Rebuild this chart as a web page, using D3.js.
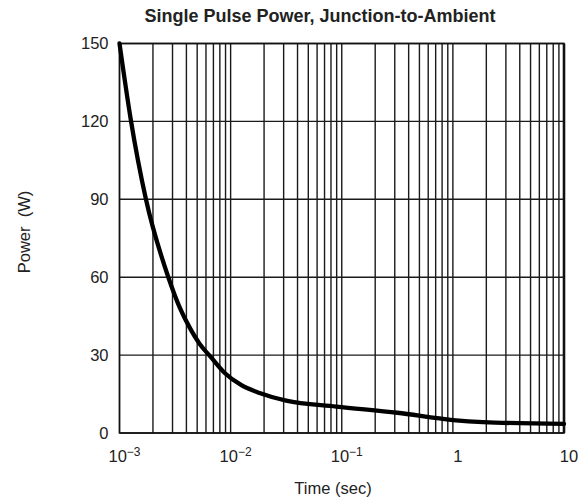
<!DOCTYPE html>
<html>
<head>
<meta charset="utf-8">
<script src="https://cdn.jsdelivr.net/npm/d3@7"></script>
<style>
  body { margin: 0; background: #fff; }
  svg text { font-family: "Liberation Sans", Arial, sans-serif; fill: #222; }
</style>
</head>
<body>
<div id="chart"></div>
<script>
/* single pulse power curve */
var timeSec  = [0.001, 0.00126, 0.00173, 0.00275, 0.00351, 0.00432, 0.00531, 0.00653, 0.0089, 0.0124, 0.0185, 0.0316, 0.0891, 0.316, 1, 1.86, 10];
var powerW   = [150,   121,     90,      60,      48,      40.3,    34.1,    29.6,    23,     18.5,   15.3,   12.5,   10.2,   7.8,   5, 4.2,  3.5];
var yTicks   = [0, 30, 60, 90, 120, 150];
var xDecades = [-3, -2, -1, 0, 1];
var xLabels  = [["10", "\u22123"], ["10", "\u22122"], ["10", "\u22121"], ["1", ""], ["10", ""]];

var width = 585, height = 501,
    margin = { top: 43.5, right: 21, bottom: 68, left: 119.5 };

var svg = d3.select("#chart").append("svg")
    .attr("width", width)
    .attr("height", height);

var x = d3.scaleLog()
    .domain([1e-3, 10])
    .range([margin.left, width - margin.right]);

var y = d3.scaleLinear()
    .domain([0, 150])
    .range([height - margin.bottom, margin.top]);

var grid = svg.append("g").attr("stroke", "#1a1a1a").attr("stroke-width", 1.4);

// vertical grid: 1..9 in each decade
var minor = [];
xDecades.slice(0, -1).forEach(function(e) {
  for (var k = 1; k < 10; k++) minor.push(k * Math.pow(10, e));
});
grid.selectAll("line.v").data(minor).enter().append("line")
    .attr("x1", function(d) { return x(d); })
    .attr("x2", function(d) { return x(d); })
    .attr("y1", y(0)).attr("y2", y(150));

grid.selectAll("line.h").data(yTicks).enter().append("line")
    .attr("x1", x(1e-3)).attr("x2", x(10))
    .attr("y1", function(d) { return y(d); })
    .attr("y2", function(d) { return y(d); });

// frame
svg.append("rect")
    .attr("x", x(1e-3)).attr("y", y(150))
    .attr("width", x(10) - x(1e-3)).attr("height", y(0) - y(150))
    .attr("fill", "none").attr("stroke", "#111").attr("stroke-width", 1.5);
svg.append("line")
    .attr("x1", x(10)).attr("x2", x(10))
    .attr("y1", y(150)).attr("y2", y(0))
    .attr("stroke", "#111").attr("stroke-width", 2.6);

// curve
var line = d3.line()
    .x(function(d, i) { return x(timeSec[i]); })
    .y(function(d) { return y(d); })
    .curve(d3.curveMonotoneX);

svg.append("path")
    .datum(powerW)
    .attr("d", line)
    .attr("fill", "none")
    .attr("stroke", "#000")
    .attr("stroke-width", 4.3)
    .attr("stroke-linecap", "round");

// y tick labels
svg.selectAll("text.ytick").data(yTicks).enter().append("text")
    .attr("x", margin.left - 11)
    .attr("y", function(d) { return y(d); })
    .attr("dy", "0.35em")
    .attr("text-anchor", "end")
    .style("font-size", "16.5px")
    .text(function(d) { return d; });

// x tick labels with superscripts
var xt = svg.selectAll("text.xtick").data(xDecades).enter().append("text")
    .attr("x", function(d) { return x(Math.pow(10, d)) + 5; })
    .attr("y", 462)
    .attr("text-anchor", "middle")
    .style("font-size", "16.5px");
xt.append("tspan").text(function(d, i) { return xLabels[i][0]; });
xt.append("tspan")
    .attr("dy", -6)
    .style("font-size", "12px")
    .text(function(d, i) { return xLabels[i][1]; });

// titles
svg.append("text")
    .attr("x", 320).attr("y", 22)
    .attr("text-anchor", "middle")
    .style("font-size", "18px").style("font-weight", "bold")
    .text("Single Pulse Power, Junction-to-Ambient");

svg.append("text")
    .attr("x", 333).attr("y", 494)
    .attr("text-anchor", "middle")
    .style("font-size", "16.5px")
    .text("Time (sec)");

svg.append("text")
    .attr("transform", "translate(30,232)rotate(-90)")
    .attr("text-anchor", "middle")
    .style("font-size", "16.5px")
    .style("white-space", "pre")
    .text("Power  (W)");
</script>
</body>
</html>
